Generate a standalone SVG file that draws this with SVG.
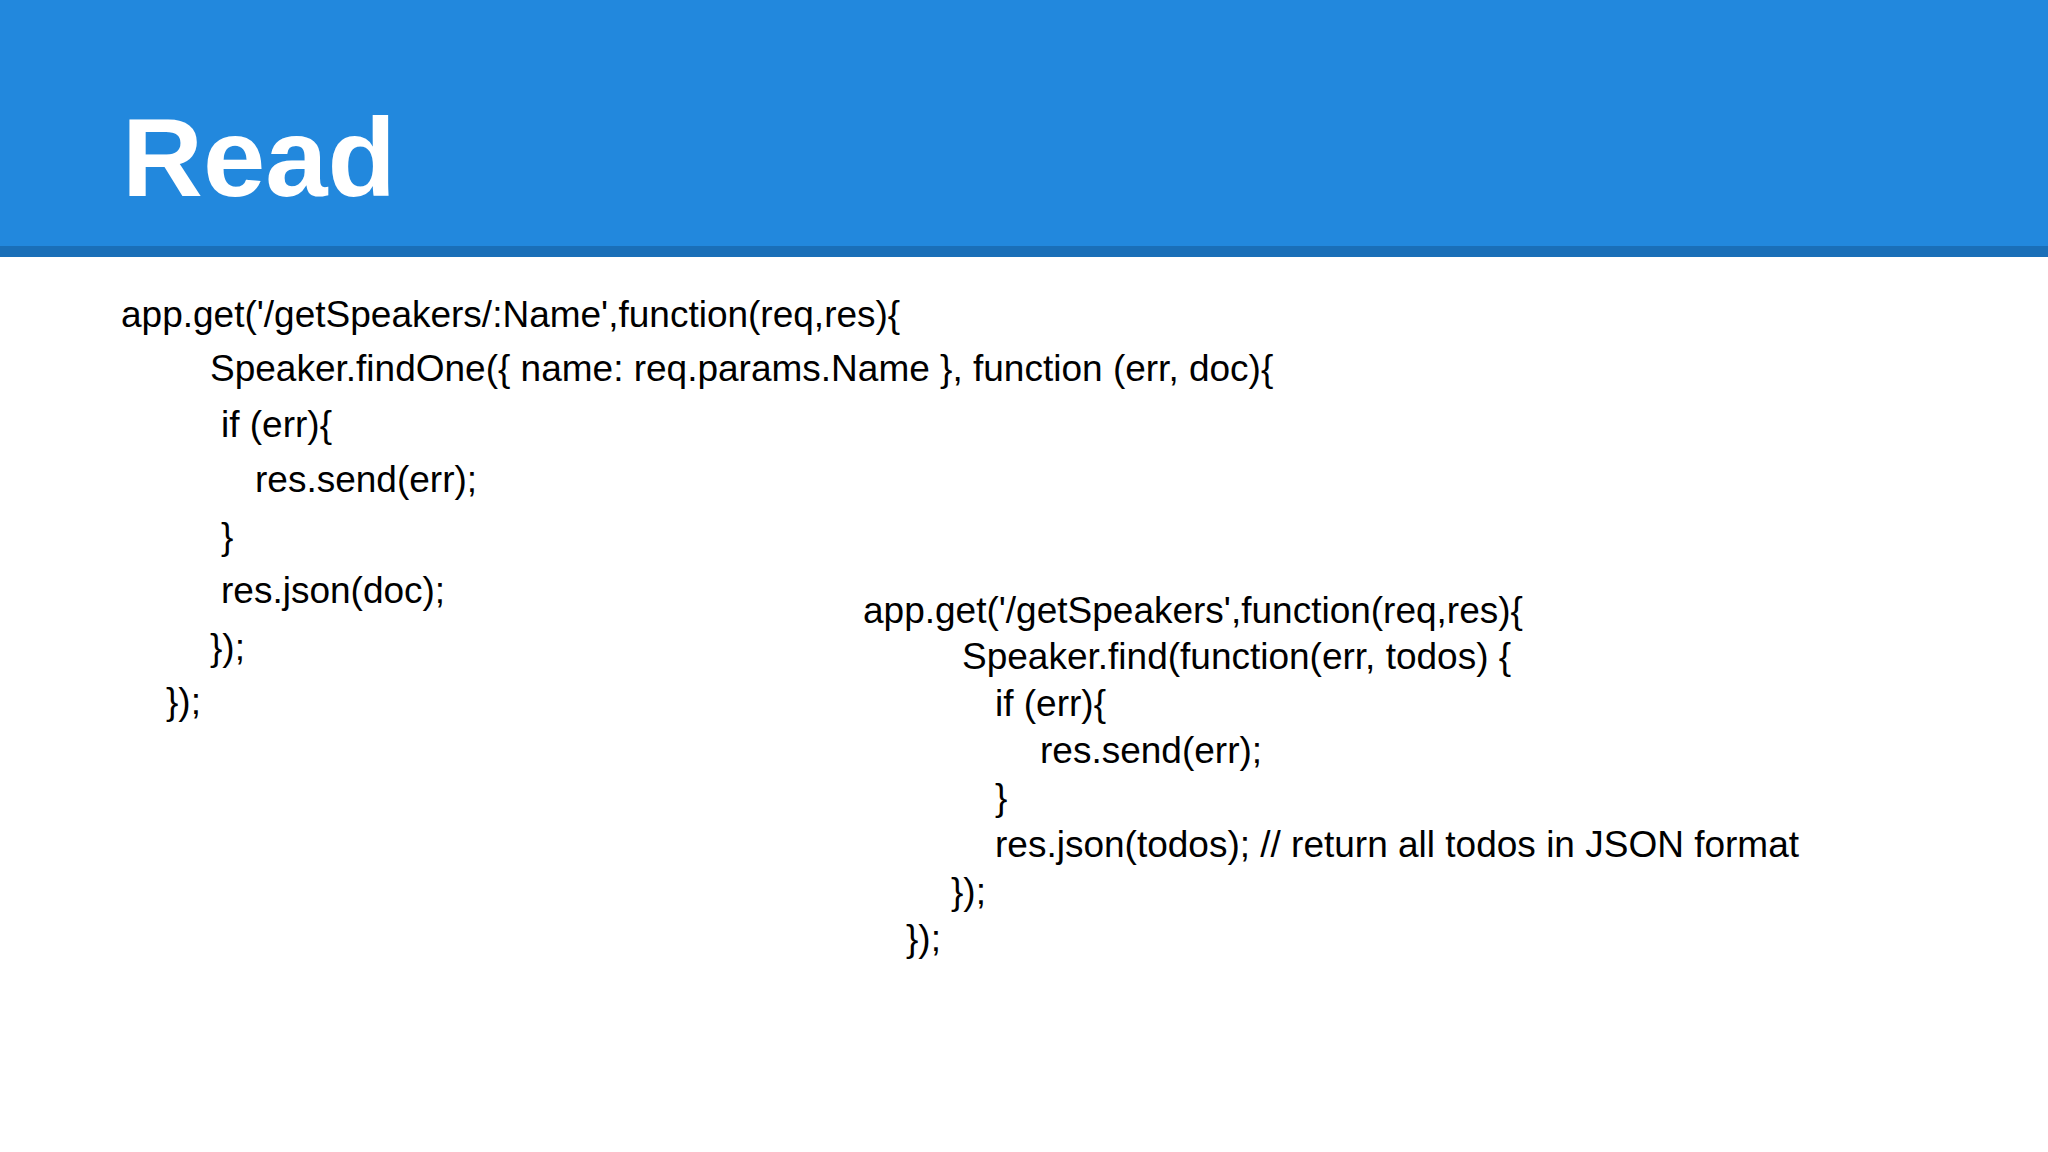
<svg xmlns="http://www.w3.org/2000/svg" width="2048" height="1152" viewBox="0 0 2048 1152">
<style>
.c{font-family:"Liberation Sans",Arial,sans-serif;font-size:37px;fill:#000}
.t{font-family:"Liberation Sans",Arial,sans-serif;font-size:112px;font-weight:bold;fill:#fff}
</style>
<rect width="2048" height="1152" fill="#fff"/>
<g id="header">
<rect x="0" y="0" width="2048" height="246" fill="#2288dd"/>
<rect x="0" y="246" width="2048" height="11" fill="#1a6fb8"/>
<text class="t" x="122" y="196">Read</text>
</g>
<g id="code-left">
<text class="c" x="121" y="327">app.get('/getSpeakers/:Name',function(req,res){</text>
<text class="c" x="210" y="381">Speaker.findOne({ name: req.params.Name }, function (err, doc){</text>
<text class="c" x="221" y="437">if (err){</text>
<text class="c" x="255" y="492">res.send(err);</text>
<text class="c" x="221" y="549">}</text>
<text class="c" x="221" y="603">res.json(doc);</text>
<text class="c" x="210" y="660">});</text>
<text class="c" x="166" y="714">});</text>
</g>
<g id="code-right">
<text class="c" x="863" y="623">app.get('/getSpeakers',function(req,res){</text>
<text class="c" x="962" y="669">Speaker.find(function(err, todos) {</text>
<text class="c" x="995" y="716">if (err){</text>
<text class="c" x="1040" y="763">res.send(err);</text>
<text class="c" x="995" y="810">}</text>
<text class="c" x="995" y="857">res.json(todos); // return all todos in JSON format</text>
<text class="c" x="951" y="904">});</text>
<text class="c" x="906" y="951">});</text>
</g>
</svg>
